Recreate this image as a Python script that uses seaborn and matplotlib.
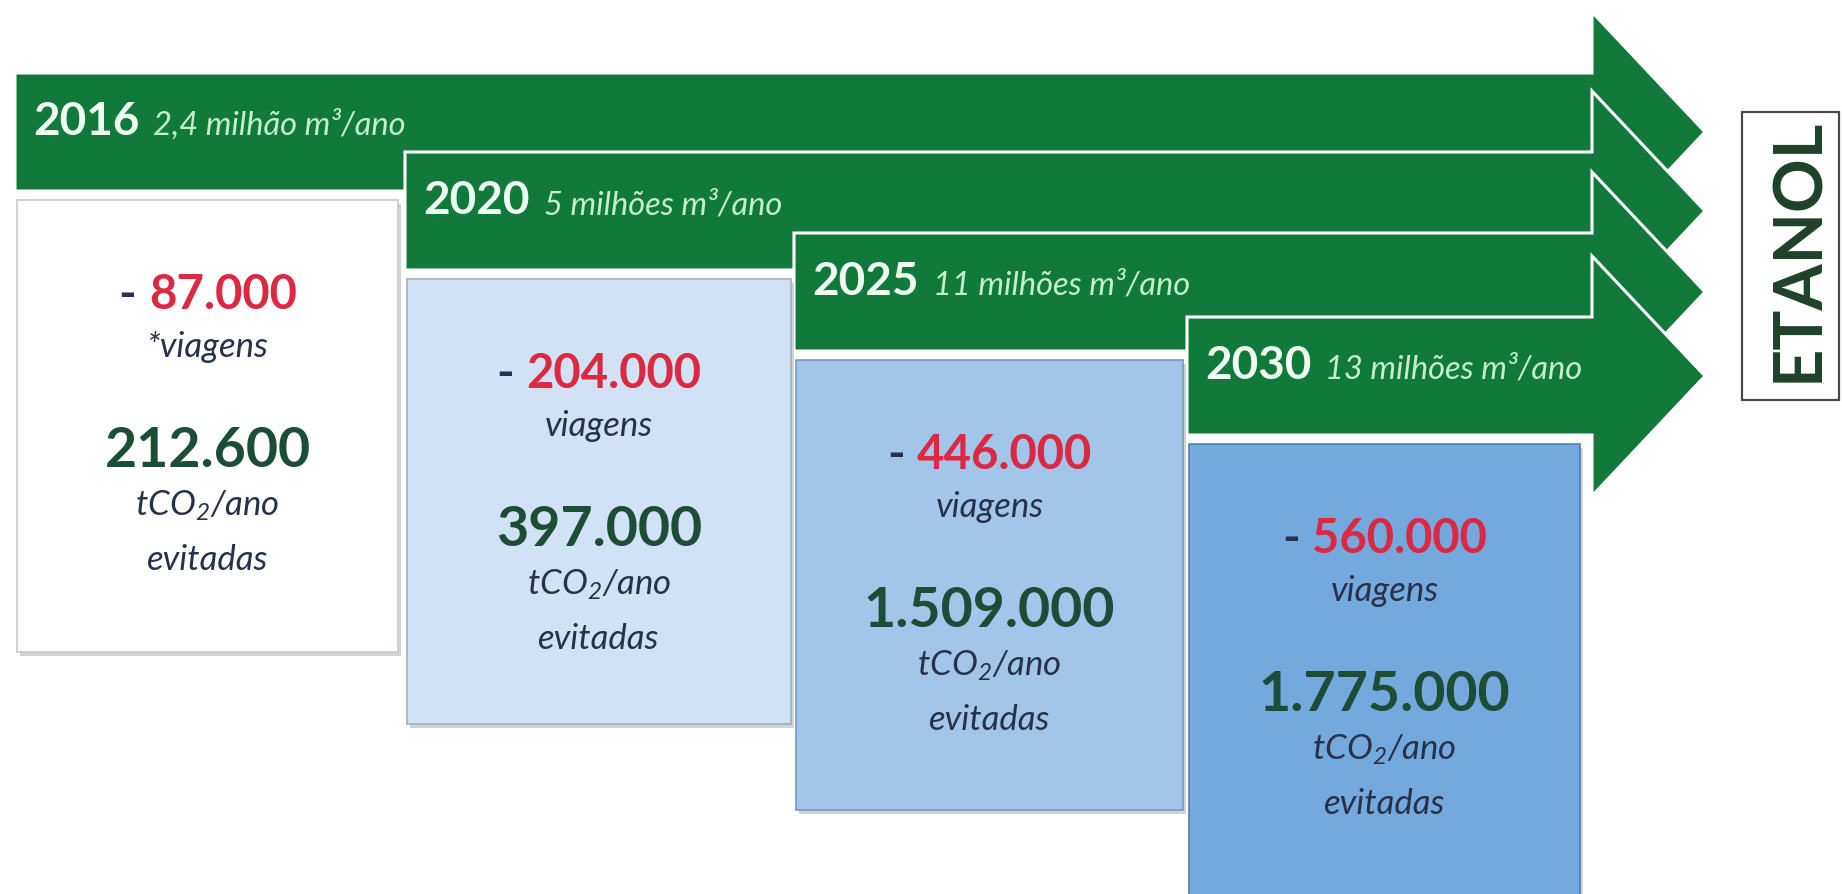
import numpy as np
import pandas as pd
import matplotlib
matplotlib.use("Agg")
import matplotlib.pyplot as plt
import seaborn as sns
from matplotlib.patches import Polygon, Rectangle
from matplotlib.offsetbox import TextArea, HPacker, AnnotationBbox

# dados do infográfico
years = ["2016", "2020", "2025", "2030"]
volumes = ["2,4 milhão m³/ano", "5 milhões m³/ano", "11 milhões m³/ano", "13 milhões m³/ano"]
trips_avoided = [87000, 204000, 446000, 560000]
trip_labels = ["*viagens", "viagens", "viagens", "viagens"]
co2_avoided = [212600, 397000, 1509000, 1775000]
co2_label = "tCO$_2$/ano"
co2_label2 = "evitadas"
side_label = "ETANOL"

sns.set_theme(style="white")
plt.rcParams["font.family"] = ["Lato", "DejaVu Sans"]
plt.rcParams["mathtext.fontset"] = "custom"
plt.rcParams["mathtext.it"] = "Lato:italic"
plt.rcParams["mathtext.rm"] = "Lato:italic"

GREEN = "#117a3a"
RED = "#dc2840"
DARK_GREEN = "#1c4d36"
LABEL = "#27324a"
box_colors = sns.blend_palette(["#ffffff", "#74a9de"], n_colors=4)
edge_colors = sns.blend_palette(["#c9c9c9", "#4f7fb5"], n_colors=4)


def fmt(n):
    return f"{n:,}".replace(",", ".")


# geometria (pixels)
band_left = [15, 405, 794, 1187]
band_top = [73, 152, 233, 317]
band_h = 118
head_x0, head_x1, head_half = 1592, 1705, 120
box_right = [398, 791, 1183, 1580]
box_bottom = [652, 724, 810, 910]
box_gap = 9
line_offsets = [112, 157, 267, 316, 370]

fig = plt.figure(figsize=(18.42, 8.94), dpi=100)
ax = fig.add_axes([0, 0, 1, 1])
ax.set_xlim(0, 1842)
ax.set_ylim(894, 0)
ax.axis("off")

# setas verdes
for i, yr in enumerate(years):
    L, T = band_left[i], band_top[i]
    B = T + band_h
    C = (T + B) / 2
    pts = [(L, T), (head_x0, T), (head_x0, C - head_half), (head_x1, C),
           (head_x0, C + head_half), (head_x0, B), (L, B)]
    ax.add_patch(Polygon(pts, closed=True, facecolor=GREEN, edgecolor="white",
                         lw=2.2, joinstyle="miter", zorder=2 + i))
    yt = ax.text(L + 18, T + 62, yr, color="#effff2", fontsize=33,
                 weight="bold", va="baseline", ha="left", zorder=10)
    ax.annotate(volumes[i], xy=(1, T + 62), xycoords=(yt, "data"),
                xytext=(14, 0), textcoords="offset pixels",
                color="#c3efcf", fontsize=23.5, style="italic",
                va="baseline", ha="left", zorder=10)

# caixas com os resultados
for i in range(len(years)):
    L = band_left[i] + 2
    top = band_top[i] + band_h + box_gap
    w = box_right[i] - L
    h = box_bottom[i] - top
    ax.add_patch(Rectangle((L + 3, top + 4), w, h, facecolor="#9aa0a8",
                           alpha=0.45, lw=0, zorder=8))
    ax.add_patch(Rectangle((L, top), w, h, facecolor=box_colors[i],
                           edgecolor=edge_colors[i], lw=1.2, zorder=9))
    cx = L + w / 2

    dash = TextArea("-", textprops=dict(color=LABEL, fontsize=34, weight="bold"))
    num = TextArea(fmt(trips_avoided[i]),
                   textprops=dict(color=RED, fontsize=34, weight="bold"))
    pack = HPacker(children=[dash, num], sep=9, pad=0, align="baseline")
    ab = AnnotationBbox(pack, (cx, top + line_offsets[0] - 17), frameon=False,
                        box_alignment=(0.5, 0.5), zorder=11)
    ax.add_artist(ab)

    ax.text(cx, top + line_offsets[1], trip_labels[i], color=LABEL, fontsize=25,
            style="italic", ha="center", va="baseline", zorder=11)
    ax.text(cx, top + line_offsets[2], fmt(co2_avoided[i]), color=DARK_GREEN,
            fontsize=40, weight="bold", ha="center", va="baseline", zorder=11)
    ax.text(cx, top + line_offsets[3], co2_label, color=LABEL, fontsize=25,
            style="italic", ha="center", va="baseline", zorder=11)
    ax.text(cx, top + line_offsets[4], co2_label2, color=LABEL, fontsize=25,
            style="italic", ha="center", va="baseline", zorder=11)

# rótulo lateral
ax.add_patch(Rectangle((1742, 112), 97, 288, facecolor="white",
                       edgecolor="#4a4a4a", lw=1.6, zorder=5))
ax.text(1799, 250, side_label, rotation=90, color="#1d4229", fontsize=48,
        weight="bold", ha="center", va="center", zorder=6)

fig.savefig("out.png", dpi=100)
